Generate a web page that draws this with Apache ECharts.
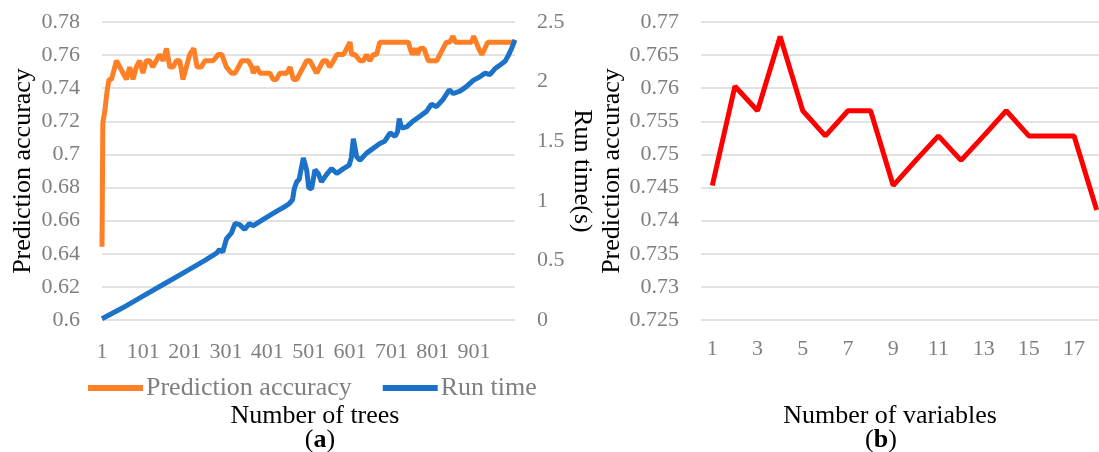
<!DOCTYPE html>
<html>
<head>
<meta charset="utf-8">
<script src="https://cdn.jsdelivr.net/npm/echarts@6/dist/echarts.min.js"></script>
<style>
  html, body { margin: 0; padding: 0; background: #fff; }
  #chart { width: 1099px; height: 452px; }
</style>
</head>
<body>
<div id="chart"></div>
<script>
// (a) prediction accuracy and run time against the number of trees
const treeCount = 1000;
const accTrees = [1, 3, 8, 13, 18, 24, 28, 36, 44, 52, 60, 68, 76, 84, 92, 100, 108, 116, 124, 132,
  140, 149, 157, 165, 173, 181, 189, 197, 205, 213, 223, 231, 241, 250, 257, 270, 282, 291, 302, 314,
  323, 331, 339, 347, 355, 363, 367, 375, 383, 391, 399, 407, 415, 423, 431, 440, 448, 456, 464, 472,
  480, 488, 496, 504, 512, 520, 528, 536, 544, 552, 561, 569, 577, 585, 593, 601, 605, 613, 625, 633,
  641, 649, 657, 665, 673, 680, 742, 746, 752, 758, 764, 770, 780, 790, 800, 811, 818, 826, 834, 842,
  850, 856, 895, 900, 906, 912, 920, 927, 934, 1000];
const accValues = [0.6442, 0.7191, 0.7266, 0.7378, 0.7453, 0.7453, 0.7491, 0.7566, 0.7528, 0.7491,
  0.7453, 0.7528, 0.7453, 0.7528, 0.7566, 0.7491, 0.7566, 0.7566, 0.7528, 0.7566,
  0.7603, 0.7566, 0.7640, 0.7528, 0.7528, 0.7566, 0.7566, 0.7453, 0.7528, 0.7603,
  0.7640, 0.7528, 0.7528, 0.7566, 0.7566, 0.7566, 0.7603, 0.7603, 0.7528, 0.7491,
  0.7491, 0.7528, 0.7566, 0.7566, 0.7566, 0.7528, 0.7491, 0.7528, 0.7491, 0.7491,
  0.7491, 0.7491, 0.7453, 0.7453, 0.7491, 0.7491, 0.7491, 0.7528, 0.7453, 0.7453,
  0.7491, 0.7528, 0.7566, 0.7566, 0.7528, 0.7491, 0.7528, 0.7566, 0.7566, 0.7528,
  0.7566, 0.7603, 0.7603, 0.7603, 0.7640, 0.7678, 0.7603, 0.7603, 0.7566, 0.7566,
  0.7603, 0.7566, 0.7603, 0.7603, 0.7678, 0.7678, 0.7678, 0.7640, 0.7603, 0.7640,
  0.7603, 0.7640, 0.7640, 0.7566, 0.7566, 0.7566, 0.7603, 0.7640, 0.7678, 0.7678,
  0.7715, 0.7678, 0.7678, 0.7715, 0.7678, 0.7640, 0.7603, 0.7640, 0.7678, 0.7678];
const timeTrees = [1, 50, 100, 150, 200, 250, 278, 285, 293, 302, 314, 323, 334, 346, 358, 366, 394,
  427, 443, 455, 462, 466, 472, 478, 488, 496, 501, 508, 516, 524, 532, 544, 556, 569, 585, 599, 604,
  609, 617, 625, 641, 657, 673, 685, 698, 710, 716, 720, 726, 738, 754, 770, 786, 798, 810, 826, 841,
  851, 867, 883, 899, 915, 927, 940, 952, 964, 976, 984, 992, 1000];
const timeValues = [0.01, 0.10, 0.20, 0.30, 0.40, 0.50, 0.56, 0.59, 0.57, 0.68, 0.73, 0.81, 0.80,
  0.76, 0.81, 0.79, 0.85, 0.92, 0.95, 0.98, 1.01, 1.10, 1.16, 1.18, 1.36, 1.26, 1.11, 1.10, 1.26,
  1.23, 1.16, 1.22, 1.27, 1.23, 1.27, 1.30, 1.36, 1.52, 1.37, 1.34, 1.40, 1.44, 1.48, 1.50, 1.57,
  1.54, 1.58, 1.69, 1.61, 1.62, 1.67, 1.71, 1.75, 1.81, 1.79, 1.85, 1.93, 1.90, 1.92, 1.96, 2.01,
  2.04, 2.07, 2.06, 2.11, 2.14, 2.17, 2.22, 2.28, 2.35];

// (b) prediction accuracy against the number of variables
const variableCounts = ['1', '2', '3', '4', '5', '6', '7', '8', '9', '10', '11', '12', '13', '14', '15', '16', '17', '18'];
const variableAcc = [0.7453, 0.7603, 0.7566, 0.7678, 0.7566, 0.7528, 0.7566, 0.7566, 0.7453,
  0.7491, 0.7528, 0.7491, 0.7528, 0.7566, 0.7528, 0.7528, 0.7528, 0.7416];

const treeLabels = [];
for (let i = 1; i <= treeCount; i++) treeLabels.push(String(i));
const toPairs = (xs, ys) => xs.map((t, i) => [t - 1, ys[i]]);

const FONT = 'Liberation Serif';
const GREY = '#7f7f7f';
const gridLine = { show: true, lineStyle: { color: '#d9d9d9', width: 1.5 } };
const tickFont = { color: GREY, fontFamily: FONT, fontSize: 22 };
const nameFont = { color: '#000', fontFamily: FONT, fontSize: 26 };
const captionStyle = {
  fontFamily: FONT, fontSize: 26, fontWeight: 'normal', color: '#000',
  rich: { b: { fontFamily: FONT, fontSize: 26, fontWeight: 'bold', color: '#000' } }
};

const chart = echarts.init(document.getElementById('chart'), null, { renderer: 'canvas' });
chart.setOption({
  animation: false,
  backgroundColor: '#fff',
  textStyle: { fontFamily: FONT },
  title: [
    { text: 'Number of trees', left: 310, top: 398, textAlign: 'center', textStyle: captionStyle },
    { text: '({b|a})', left: 315, top: 422, textAlign: 'center', textStyle: captionStyle },
    { text: 'Number of variables', left: 885, top: 398, textAlign: 'center', textStyle: captionStyle },
    { text: '({b|b})', left: 876, top: 422, textAlign: 'center', textStyle: captionStyle }
  ],
  legend: {
    left: 83, top: 370, itemWidth: 55, itemHeight: 6, itemGap: 31,
    icon: 'rect',
    textStyle: { color: GREY, fontFamily: FONT, fontSize: 26, padding: [0, 0, 0, -2] },
    data: ['Prediction accuracy', 'Run time']
  },
  grid: [
    { left: 102, right: 584, top: 22, bottom: 132, containLabel: false, outerBoundsMode: 'none' },
    { left: 701, right: -9, top: 22, bottom: 132, containLabel: false, outerBoundsMode: 'none' }
  ],
  xAxis: [
    { type: 'category', gridIndex: 0, data: treeLabels, boundaryGap: false,
      axisLine: { show: false }, axisTick: { show: false },
      axisLabel: Object.assign({ interval: 99, margin: 21 }, tickFont) },
    { type: 'category', gridIndex: 1, data: variableCounts, boundaryGap: true,
      axisLine: { show: false }, axisTick: { show: false },
      axisLabel: Object.assign({ interval: 1, margin: 18 }, tickFont) }
  ],
  yAxis: [
    { type: 'value', gridIndex: 0, min: 0.6, max: 0.78, interval: 0.02,
      name: 'Prediction accuracy', nameLocation: 'middle', nameGap: 66, nameTextStyle: nameFont,
      axisLine: { show: false }, axisTick: { show: false }, splitLine: gridLine,
      axisLabel: Object.assign({ margin: 22 }, tickFont) },
    { type: 'value', gridIndex: 0, position: 'right', min: 0, max: 2.5, interval: 0.5,
      name: 'Run time(s)', nameLocation: 'middle', nameGap: 48, nameRotate: -90, nameTextStyle: nameFont,
      axisLine: { show: false }, axisTick: { show: false }, splitLine: { show: false },
      axisLabel: Object.assign({ margin: 22 }, tickFont) },
    { type: 'value', gridIndex: 1, min: 0.725, max: 0.77, interval: 0.005,
      name: 'Prediction accuracy', nameLocation: 'middle', nameGap: 75, nameTextStyle: nameFont,
      axisLine: { show: false }, axisTick: { show: false }, splitLine: gridLine,
      axisLabel: Object.assign({ margin: 22 }, tickFont) }
  ],
  series: [
    { name: 'Prediction accuracy', type: 'line', xAxisIndex: 0, yAxisIndex: 0,
      data: toPairs(accTrees, accValues), showSymbol: false, symbol: 'none',
      lineStyle: { color: '#ff7f27', width: 5 }, itemStyle: { color: '#ff7f27' } },
    { name: 'Run time', type: 'line', xAxisIndex: 0, yAxisIndex: 1,
      data: toPairs(timeTrees, timeValues), showSymbol: false, symbol: 'none',
      lineStyle: { color: '#1b72c8', width: 5 }, itemStyle: { color: '#1b72c8' } },
    { name: 'Accuracy by variables', type: 'line', xAxisIndex: 1, yAxisIndex: 2,
      data: variableAcc, showSymbol: false, symbol: 'none',
      lineStyle: { color: '#ff0000', width: 5 }, itemStyle: { color: '#ff0000' } }
  ]
});
</script>
</body>
</html>
